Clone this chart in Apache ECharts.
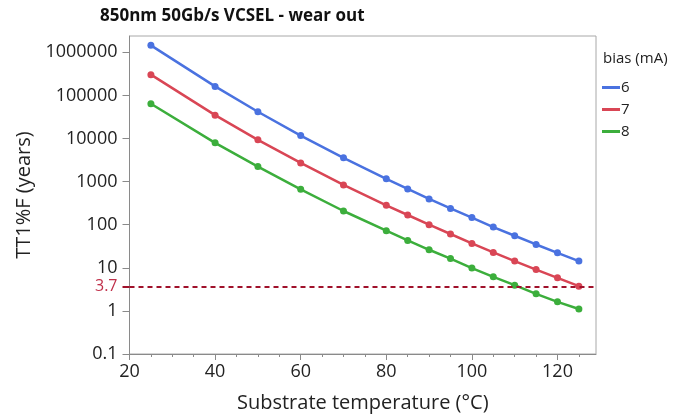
<!DOCTYPE html>
<html><head><meta charset="utf-8">
<script src="https://cdn.jsdelivr.net/npm/echarts@6/dist/echarts.min.js"></script>
<style>html,body{margin:0;padding:0;background:#fff}#c{width:677px;height:415px}</style>
</head><body><div id="c"></div>
<script>
const temps = [25,40,50,60,70,80,85,90,95,100,105,110,115,120,125];
const bias6 = [1450000,162000,41800,11700,3560,1160,676,396,239,146,88,55.5,34.8,22.3,14.3];
const bias7 = [303000,34800,9330,2720,838,281,168,100,60.8,36.7,22.7,14.3,9.1,5.85,3.75];
const bias8 = [64100,7940,2230,662,208,72.5,43.1,26.2,16.4,9.84,6.18,3.96,2.49,1.62,1.11];
const seriesNames = ['6','7','8'];
const yTicks = [0.1,1,10,100,1000,10000,100000,1000000];
const xTicks = [20,40,60,80,100,120];
const threshold = 3.7;

const FONT = 'Open Sans';
const colors = ['#4a72e0','#d94655','#3cae3c'];
const pairs = arr => temps.map((t,i)=>[t,arr[i]]);
const fmt = v => String(+(+v).toPrecision(6));

const chart = echarts.init(document.getElementById('c'), null, {renderer:'canvas'});
chart.setOption({
  animation:false,
  color: colors,
  textStyle:{fontFamily:FONT},
  title:[
    {text:'850nm 50Gb/s VCSEL - wear out', left:100, top:8, padding:0,
     textStyle:{fontFamily:FONT, fontSize:17, fontWeight:'bold', color:'#111'}},
    {text:'bias (mA)', left:603, top:51, padding:0,
     textStyle:{fontFamily:FONT, fontSize:15, fontWeight:'normal', color:'#222'}}
  ],
  legend:{
    data:seriesNames, orient:'vertical', left:602, top:80, padding:0,
    icon:'rect', itemWidth:18, itemHeight:3, itemGap:7,
    textStyle:{fontFamily:FONT, fontSize:15, color:'#222', lineHeight:14, padding:[0,0,0,-4]}
  },
  grid:{left:129.5, right:81, top:36, bottom:61, show:true, borderColor:'#a8a8a8', borderWidth:1,
        containLabel:false, outerBoundsMode:'none'},
  xAxis:{
    type:'value', min:20, max:129, interval:20,
    name:'Substrate temperature (°C)', nameLocation:'middle', nameGap:39,
    nameTextStyle:{fontFamily:FONT, fontSize:20, color:'#222'},
    axisLine:{lineStyle:{color:'#8a8a8a'}},
    axisTick:{length:6, customValues:xTicks, lineStyle:{color:'#8a8a8a'}},
    minorTick:{show:true, splitNumber:4, length:3, lineStyle:{color:'#8a8a8a'}},
    splitLine:{show:false},
    axisLabel:{fontFamily:FONT, fontSize:18, color:'#222', margin:9, customValues:xTicks}
  },
  yAxis:[{
    type:'log', logBase:10, min:0.1, max:2.39e6,
    name:'TT1%F (years)', nameLocation:'middle', nameGap:95,
    nameTextStyle:{fontFamily:FONT, fontSize:20, color:'#222'},
    axisLine:{show:true, lineStyle:{color:'#8a8a8a'}},
    axisTick:{show:true, length:7, customValues:yTicks, lineStyle:{color:'#8a8a8a'}},
    axisLabel:{fontFamily:FONT, fontSize:18, color:'#222', margin:12, customValues:yTicks, formatter:fmt},
    splitLine:{show:false}, minorTick:{show:false}
  },{
    type:'log', logBase:10, min:0.1, max:2.39e6, position:'left', offset:0,
    axisLine:{show:false},
    axisTick:{show:true, length:7, customValues:[threshold], lineStyle:{color:'#a0112b', width:2}},
    axisLabel:{fontFamily:FONT, fontSize:16, color:'#c0304a', margin:12, customValues:[threshold], formatter:fmt},
    splitLine:{show:false}
  }],
  series:[bias6,bias7,bias8].map((arr,k)=>({
    name:seriesNames[k], type:'line', data:pairs(arr),
    symbol:'circle', symbolSize:7, showSymbol:true,
    lineStyle:{width:2.5, color:colors[k]}, itemStyle:{color:colors[k]},
    markLine: k===0 ? {silent:true, symbol:'none', label:{show:false},
      lineStyle:{color:'#a0112b', type:[5,4], width:2},
      data:[{yAxis:threshold}]} : undefined
  }))
});
</script></body></html>
